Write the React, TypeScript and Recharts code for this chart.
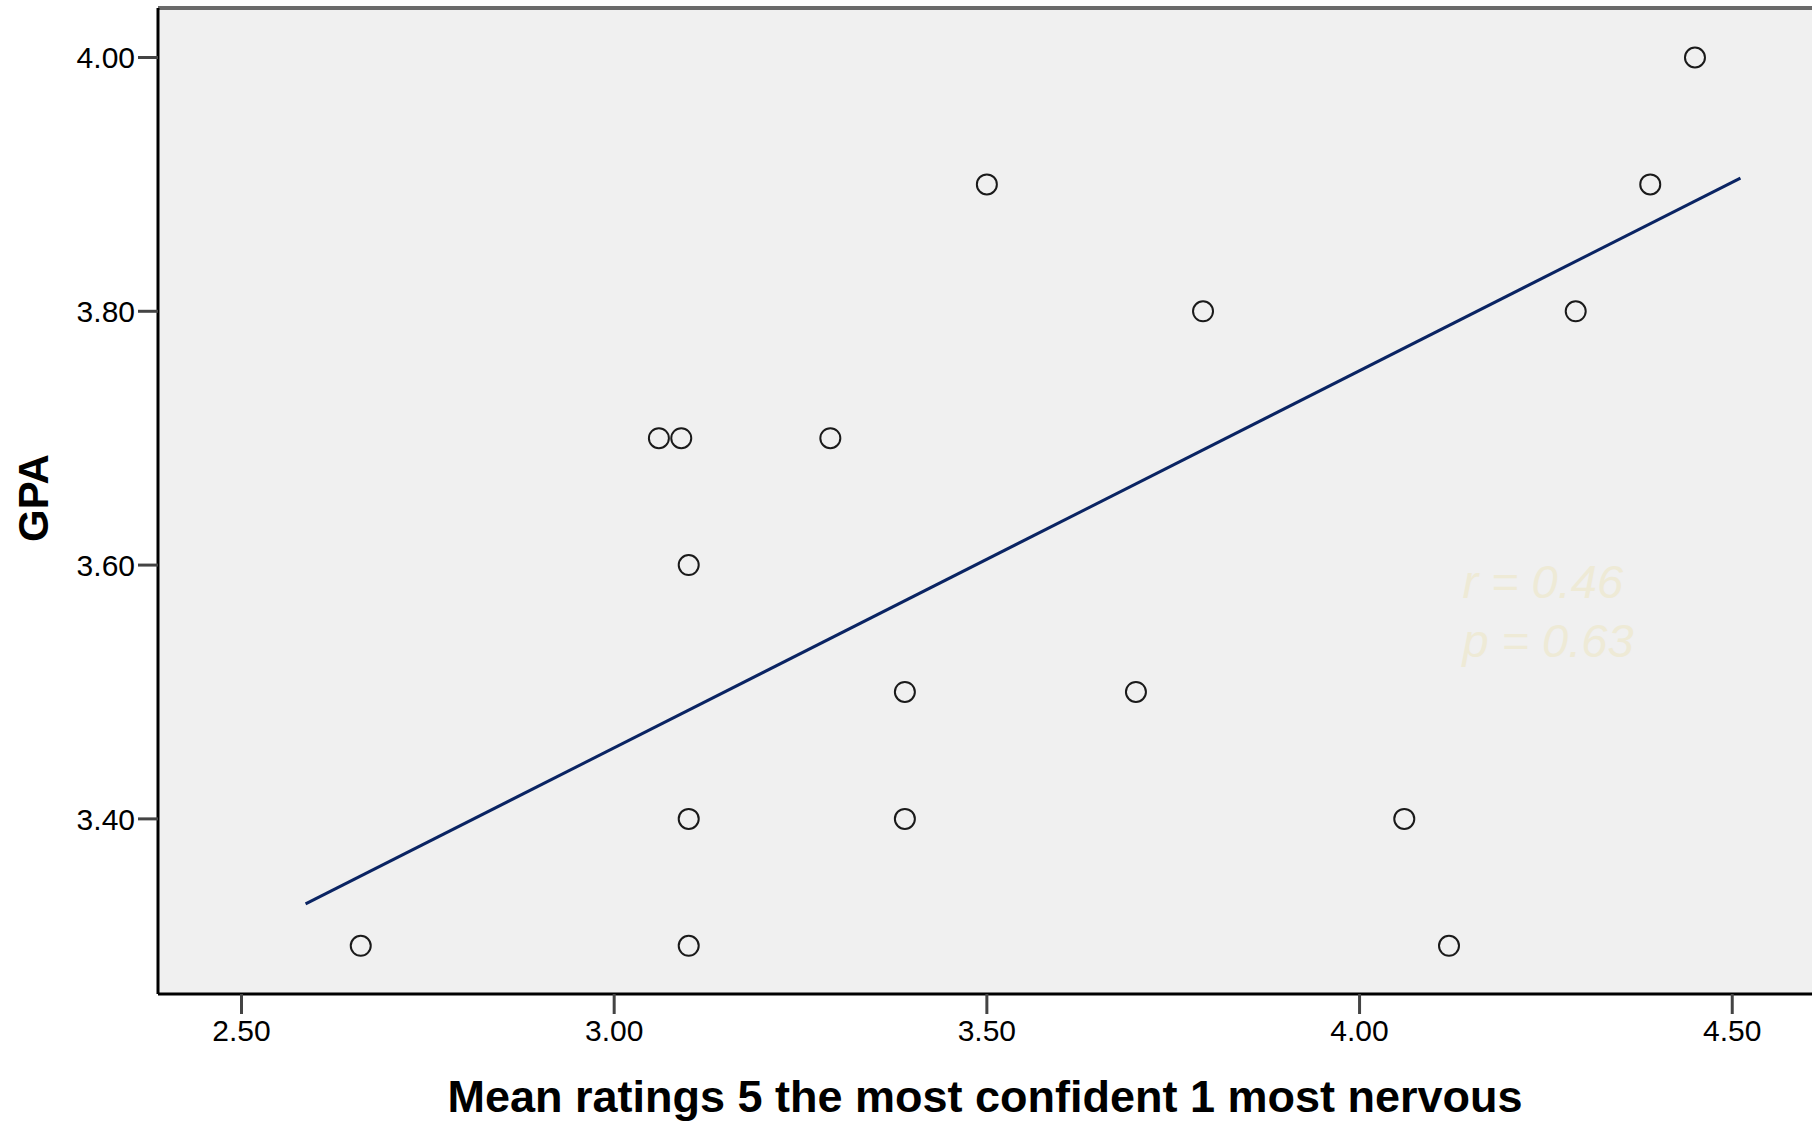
import React from "react";
import { ScatterChart, Scatter, XAxis, YAxis, CartesianGrid, ReferenceDot } from "recharts";

// values
const RATINGS = [4.45, 3.5, 4.39, 3.79, 4.29, 3.06, 3.09, 3.29, 3.1, 3.39, 3.7, 3.1, 3.39, 4.06, 2.66, 3.1, 4.12];
const GPA = [4.0, 3.9, 3.9, 3.8, 3.8, 3.7, 3.7, 3.7, 3.6, 3.5, 3.5, 3.4, 3.4, 3.4, 3.3, 3.3, 3.3];

// fit line end points
const FIT_X = [2.586, 4.511];
const FIT_Y = [3.333, 3.905];

const X_TICKS = [2.5, 3.0, 3.5, 4.0, 4.5];
const Y_TICKS = [3.4, 3.6, 3.8, 4.0];
const X_DOMAIN = [2.388, 4.607];
const Y_DOMAIN = [3.262, 4.039];

const STATS = ["r = 0.46", "p = 0.63"];
const STATS_AT = { x: 4.138, y: 3.574 };

const points = RATINGS.map((x, i) => ({ x, y: GPA[i] }));
const fit = FIT_X.map((x, i) => ({ x, y: FIT_Y[i] }));

const FONT = "'Liberation Sans', Arial, sans-serif";

const OpenCircle = (props: any) => (
  <circle cx={props.cx} cy={props.cy} r={10} fill="none" stroke="#1a1a1a" strokeWidth={2} />
);

const renderGpa = (props: any) => {
  const vb = props.viewBox;
  const cx = vb.x + 33;
  const cy = vb.y + vb.height / 2 - 3;
  return (
    <text
      x={cx}
      y={cy}
      transform={`rotate(-90, ${cx}, ${cy})`}
      textAnchor="middle"
      dominantBaseline="central"
      fontFamily={FONT}
      fontWeight="bold"
      fontSize={42}
      fill="#000"
    >
      GPA
    </text>
  );
};

const renderXTitle = (props: any) => {
  const vb = props.viewBox;
  return (
    <text
      x={vb.x + vb.width / 2}
      y={vb.y + 118}
      textAnchor="middle"
      fontFamily={FONT}
      fontWeight="bold"
      fontSize={45}
      fill="#000"
    >
      Mean ratings 5 the most confident 1 most nervous
    </text>
  );
};

const renderStats = (props: any) => {
  const vb = props.viewBox;
  return (
    <g>
      {STATS.map((s, i) => (
        <text
          key={s}
          x={vb.x}
          y={vb.y + i * 59}
          fontFamily={FONT}
          fontStyle="italic"
          fontSize={47}
          fill="#eeead6"
        >
          {s}
        </text>
      ))}
    </g>
  );
};

export default function App() {
  return (
    <div style={{ position: "absolute", left: 0, top: 0, width: 1818, height: 1123, background: "#fff" }}>
      <ScatterChart width={1818} height={1123} margin={{ top: 7, right: 6, bottom: 0, left: 0 }}>
        <CartesianGrid fill="#f0f0f0" horizontal={false} vertical={false} />
        <XAxis
          type="number"
          dataKey="x"
          domain={X_DOMAIN}
          ticks={X_TICKS}
          allowDataOverflow
          tickFormatter={(v: number) => v.toFixed(2)}
          height={129}
          tickSize={20}
          tickMargin={6}
          tick={{ fill: "#000", fontSize: 30, fontFamily: FONT }}
          tickLine={{ stroke: "#444", strokeWidth: 3 }}
          axisLine={{ stroke: "#000", strokeWidth: 3 }}
          label={renderXTitle}
        />
        <XAxis
          xAxisId="top"
          orientation="top"
          type="number"
          dataKey="x"
          domain={X_DOMAIN}
          allowDataOverflow
          height={1}
          tick={false}
          tickLine={false}
          axisLine={{ stroke: "#6a6a6a", strokeWidth: 4 }}
        />
        <YAxis
          type="number"
          dataKey="y"
          domain={Y_DOMAIN}
          ticks={Y_TICKS}
          allowDataOverflow
          tickFormatter={(v: number) => v.toFixed(2)}
          width={158}
          tickSize={20}
          tickMargin={3}
          tick={{ fill: "#000", fontSize: 30, fontFamily: FONT }}
          tickLine={{ stroke: "#444", strokeWidth: 3 }}
          axisLine={{ stroke: "#000", strokeWidth: 3 }}
          label={renderGpa}
        />
        <YAxis
          yAxisId="right"
          orientation="right"
          type="number"
          domain={Y_DOMAIN}
          width={0}
          tick={false}
          tickLine={false}
          axisLine={{ stroke: "#000", strokeWidth: 3 }}
        />
        <ReferenceDot
          x={STATS_AT.x}
          y={STATS_AT.y}
          r={0}
          fill="none"
          stroke="none"
          ifOverflow="visible"
          label={renderStats}
        />
        <Scatter
          data={fit}
          line={{ stroke: "#0a2463", strokeWidth: 3 }}
          shape={() => <g />}
          legendType="none"
          isAnimationActive={false}
        />
        <Scatter data={points} shape={OpenCircle} isAnimationActive={false} />
      </ScatterChart>
    </div>
  );
}
